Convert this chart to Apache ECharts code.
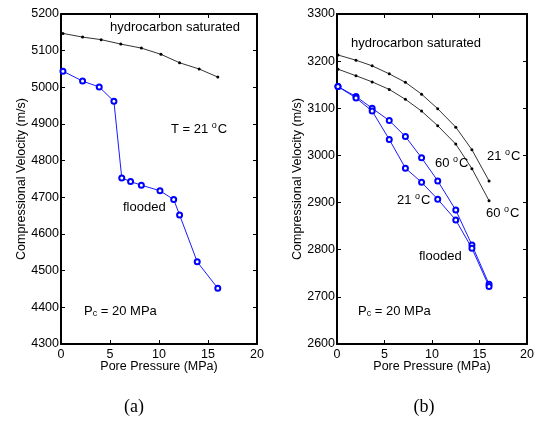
<!DOCTYPE html>
<html><head><meta charset="utf-8">
<script src="https://cdn.jsdelivr.net/npm/echarts@6/dist/echarts.min.js"></script>
<style>html,body{margin:0;padding:0;background:#fff}#c{width:537px;height:422px}</style>
</head><body><div id="c"></div>
<script>
// Panel (a)
const aHydroX = [0.2, 2.2, 4.1, 6.1, 8.2, 10.2, 12.1, 14.1, 16.0];
const aHydroY = [5147, 5137, 5130, 5118, 5107, 5090, 5067, 5050, 5028];
const aFloodX = [0.2, 2.2, 3.9, 5.4, 6.2, 7.1, 8.2, 10.1, 11.5, 12.1, 13.9, 16.0];
const aFloodY = [5044, 5017, 5001, 4962, 4753, 4743, 4733, 4718, 4694, 4652, 4524, 4452];
// Panel (b)
const bX = [0.1, 2.0, 3.7, 5.5, 7.2, 8.9, 10.6, 12.5, 14.2, 16.0];
const bHydro21 = [3213, 3202, 3190, 3173, 3155, 3130, 3099, 3060, 3012, 2946];
const bHydro60 = [3183, 3169, 3156, 3140, 3119, 3094, 3063, 3024, 2972, 2904];
const bFlood60 = [3146, 3125, 3100, 3074, 3040, 2995, 2946, 2884, 2810, 2727];
const bFlood21 = [3146, 3122, 3094, 3034, 2973, 2943, 2907, 2863, 2803, 2722];
const xTicks = [0, 5, 10, 15, 20];

const zip = (xs, ys) => xs.map((x, i) => [x, ys[i]]);
const FONT = 'Liberation Sans, Arial, sans-serif';
const FS = 12.5;
const TS = 13;

function xAxes(gi) {
  return [
    {gridIndex: gi, type: 'value', min: 0, max: 20, interval: 5, position: 'bottom',
     axisLine: {show: true, onZero: false, lineStyle: {color: '#000', width: 2}},
     axisTick: {inside: true, length: 4, lineStyle: {color: '#000'}},
     axisLabel: {color: '#000', fontSize: FS, fontFamily: FONT, margin: 4,
       formatter: v => xTicks.includes(v) ? String(v) : ''},
     splitLine: {show: false},
     name: 'Pore Pressure (MPa)', nameLocation: 'middle', nameGap: 16, nameMoveOverlap: false,
     nameTextStyle: {color: '#000', fontSize: FS, fontFamily: FONT}},
    {gridIndex: gi, type: 'value', min: 0, max: 20, interval: 5, position: 'top',
     axisLine: {show: true, onZero: false, lineStyle: {color: '#000', width: 2}},
     axisTick: {inside: true, length: 4, lineStyle: {color: '#000'}},
     axisLabel: {show: false}, splitLine: {show: false}}
  ];
}
function yAxes(gi, min, max) {
  return [
    {gridIndex: gi, type: 'value', min: min, max: max, interval: 100, position: 'left',
     axisLine: {show: true, onZero: false, lineStyle: {color: '#000', width: 2}},
     axisTick: {inside: true, length: 4, lineStyle: {color: '#000'}},
     axisLabel: {color: '#000', fontSize: FS, fontFamily: FONT, margin: 2,
       formatter: v => String(v)},
     splitLine: {show: false},
     name: 'Compressional Velocity (m/s)', nameLocation: 'middle', nameGap: 33, nameMoveOverlap: false,
     nameTextStyle: {color: '#000', fontSize: FS, fontFamily: FONT}},
    {gridIndex: gi, type: 'value', min: min, max: max, interval: 100, position: 'right',
     axisLine: {show: true, onZero: false, lineStyle: {color: '#000', width: 2}},
     axisTick: {inside: true, length: 4, lineStyle: {color: '#000'}},
     axisLabel: {show: false}, splitLine: {show: false}}
  ];
}
function blackSeries(xi, yi, data) {
  return {type: 'line', xAxisIndex: xi, yAxisIndex: yi, data: data,
    symbol: 'circle', symbolSize: 3, showSymbol: true,
    lineStyle: {color: '#000', width: 0.8}, itemStyle: {color: '#000'},
    animation: false, silent: true};
}
function blueSeries(xi, yi, data) {
  return {type: 'line', xAxisIndex: xi, yAxisIndex: yi, data: data,
    symbol: 'emptyCircle', symbolSize: 5, showSymbol: true,
    lineStyle: {color: '#0000ff', width: 0.9}, itemStyle: {color: '#0000ff', borderWidth: 1.1},
    animation: false, silent: true};
}
const supRich = {
  n: {fontSize: TS, fontFamily: FONT, color: '#000'},
  sup: {fontSize: 9, fontFamily: FONT, color: '#000', padding: [0, 1, 6, 0]},
  sub: {fontSize: 9, fontFamily: FONT, color: '#000', padding: [6, 0, 0, 0]}
};
function txt(x, y, text, align) {
  return {type: 'text', x: x, y: y, silent: true,
    style: {text: text, rich: supRich, font: TS + 'px ' + FONT, fill: '#000',
      align: align || 'left', verticalAlign: 'middle'}};
}

const option = {
  backgroundColor: '#fff',
  animation: false,
  grid: [
    {left: 61, top: 14, width: 196, height: 330},
    {left: 337, top: 14, width: 195, height: 330}
  ],
  xAxis: [...xAxes(0), ...xAxes(1)],
  yAxis: [...yAxes(0, 4300, 5200), ...yAxes(1, 2600, 3300)],
  series: [
    blackSeries(0, 0, zip(aHydroX, aHydroY)),
    blueSeries(0, 0, zip(aFloodX, aFloodY)),
    blackSeries(2, 2, zip(bX, bHydro21)),
    blackSeries(2, 2, zip(bX, bHydro60)),
    blueSeries(2, 2, zip(bX, bFlood60)),
    blueSeries(2, 2, zip(bX, bFlood21))
  ],
  graphic: [
    txt(110, 27, '{n|hydrocarbon saturated}'),
    txt(171, 129, '{n|T = 21 }{sup|o}{n|C}'),
    txt(123, 207, '{n|flooded}'),
    txt(84, 311, '{n|P}{sub|c}{n| = 20 MPa}'),
    txt(351, 43, '{n|hydrocarbon saturated}'),
    txt(435, 163, '{n|60 }{sup|o}{n|C}'),
    txt(487, 156, '{n|21 }{sup|o}{n|C}'),
    txt(397, 200, '{n|21 }{sup|o}{n|C}'),
    txt(486, 213, '{n|60 }{sup|o}{n|C}'),
    txt(419, 256, '{n|flooded}'),
    txt(358, 311, '{n|P}{sub|c}{n| = 20 MPa}'),
    {type: 'text', x: 134, y: 407, silent: true,
     style: {text: '(a)', font: '18px "Liberation Serif", "Times New Roman", serif', fill: '#000', align: 'center', verticalAlign: 'middle'}},
    {type: 'text', x: 424, y: 407, silent: true,
     style: {text: '(b)', font: '18px "Liberation Serif", "Times New Roman", serif', fill: '#000', align: 'center', verticalAlign: 'middle'}}
  ]
};
const chart = echarts.init(document.getElementById('c'), null, {renderer: 'canvas'});
chart.setOption(option);
</script>
</body></html>
